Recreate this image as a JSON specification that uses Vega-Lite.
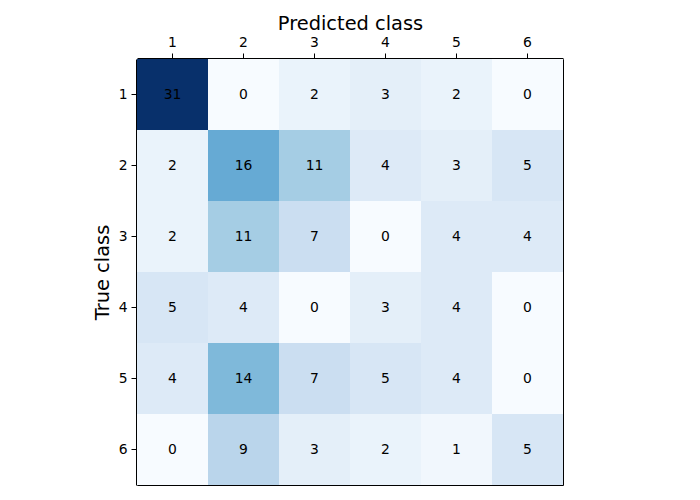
{
  "$schema": "https://vega.github.io/schema/vega-lite/v6.json",
  "width": 426,
  "height": 426,
  "autosize": {"type": "none"},
  "padding": {"left": 137, "top": 59, "right": 137, "bottom": 15},
  "background": "white",
  "config": {
    "font": "DejaVu Sans",
    "view": {"stroke": "black", "strokeWidth": 1},
    "axis": {
      "labelFont": "DejaVu Sans",
      "titleFont": "DejaVu Sans",
      "labelFontSize": 13.9,
      "titleFontSize": 19.4,
      "titleFontWeight": "normal",
      "labelColor": "black",
      "titleColor": "black",
      "tickColor": "black",
      "domainColor": "black",
      "domainWidth": 1,
      "tickSize": 5,
      "labelPadding": 4,
      "domain": true,
      "grid": false
    }
  },
  "data": {
    "values": [
      {"t": "1", "p": "1", "v": 31}, {"t": "1", "p": "2", "v": 0}, {"t": "1", "p": "3", "v": 2}, {"t": "1", "p": "4", "v": 3}, {"t": "1", "p": "5", "v": 2}, {"t": "1", "p": "6", "v": 0},
      {"t": "2", "p": "1", "v": 2}, {"t": "2", "p": "2", "v": 16}, {"t": "2", "p": "3", "v": 11}, {"t": "2", "p": "4", "v": 4}, {"t": "2", "p": "5", "v": 3}, {"t": "2", "p": "6", "v": 5},
      {"t": "3", "p": "1", "v": 2}, {"t": "3", "p": "2", "v": 11}, {"t": "3", "p": "3", "v": 7}, {"t": "3", "p": "4", "v": 0}, {"t": "3", "p": "5", "v": 4}, {"t": "3", "p": "6", "v": 4},
      {"t": "4", "p": "1", "v": 5}, {"t": "4", "p": "2", "v": 4}, {"t": "4", "p": "3", "v": 0}, {"t": "4", "p": "4", "v": 3}, {"t": "4", "p": "5", "v": 4}, {"t": "4", "p": "6", "v": 0},
      {"t": "5", "p": "1", "v": 4}, {"t": "5", "p": "2", "v": 14}, {"t": "5", "p": "3", "v": 7}, {"t": "5", "p": "4", "v": 5}, {"t": "5", "p": "5", "v": 4}, {"t": "5", "p": "6", "v": 0},
      {"t": "6", "p": "1", "v": 0}, {"t": "6", "p": "2", "v": 9}, {"t": "6", "p": "3", "v": 3}, {"t": "6", "p": "4", "v": 2}, {"t": "6", "p": "5", "v": 1}, {"t": "6", "p": "6", "v": 5}
    ]
  },
  "encoding": {
    "x": {
      "field": "p", "type": "ordinal",
      "scale": {"paddingInner": 0, "paddingOuter": 0},
      "axis": {"orient": "top", "title": "Predicted class", "labelAngle": 0, "titlePadding": 2, "offset": 1}
    },
    "y": {
      "field": "t", "type": "ordinal",
      "scale": {"paddingInner": 0, "paddingOuter": 0},
      "axis": {"orient": "left", "title": "True class", "titlePadding": 6, "offset": 1}
    }
  },
  "layer": [
    {
      "mark": {"type": "rect"},
      "encoding": {
        "color": {
          "field": "v", "type": "quantitative",
          "scale": {
            "domain": [0, 3.875, 7.75, 11.625, 15.5, 19.375, 23.25, 27.125, 31],
            "range": ["#f7fbff", "#deebf7", "#c6dbef", "#9ecae1", "#6baed6", "#4292c6", "#2171b5", "#08519c", "#08306b"]
          },
          "legend": null
        }
      }
    },
    {
      "mark": {"type": "text", "fontSize": 13.9, "color": "black", "font": "DejaVu Sans"},
      "encoding": {"text": {"field": "v", "type": "quantitative"}}
    }
  ]
}
